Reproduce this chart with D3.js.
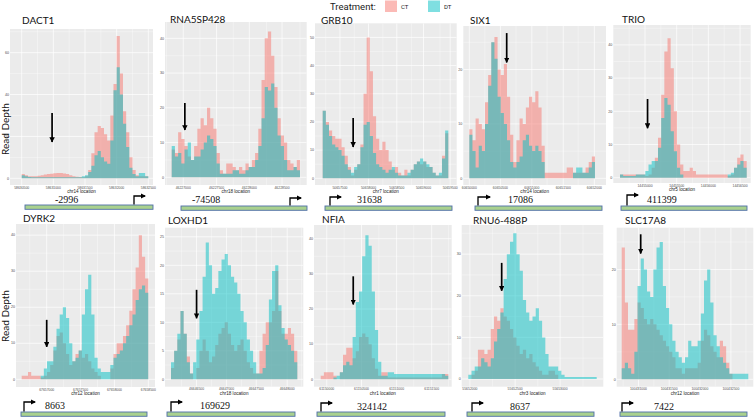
<!DOCTYPE html>
<html><head><meta charset="utf-8">
<script src="https://cdn.jsdelivr.net/npm/d3@7"></script>
<style>body{margin:0;background:#fff}svg{display:block}</style>
</head><body><svg id="c" width="755" height="418"></svg>
<script>
// ---------- DATA ----------
const genes = ["DACT1","RNA5SP428","GRB10","SIX1","TRIO","DYRK2","LOXHD1","NFIA","RNU6-488P","SLC17A8"];
const chroms = ["chr14","chr18","chr7","chr14","chr5","chr12","chr18","chr1","chr3","chr12"];
const distances = ["-2996","-74508","31638","17086","411399","8663","169629","324142","8637","7422"];
const treatments = ["CT","DT"];

const ctDACT1 = [2,1.5,1,1,1,1.2,1.5,1.8,2,2.2,2.4,2.5,2.5,2.3,2,1.5,1,0.8,0.6,0.5,1,4,12,22,25,24,21,18,30,45,68,50,32,22,10,4,1.5,1,1,1];
const dtDACT1 = [1.5,1,0.6,0.5,0.5,0.5,0.5,0.5,0.5,0.5,0.5,0.5,0.5,0.5,0.5,0.5,0.5,0.5,0.5,1,1.5,3,6,11,13,10,8,7,18,42,53,40,26,15,5,2,1,2.5,2.5,1];
const ctRNA5SP428 = [8,7,13,11,9,6,5,9,14,17,15,20,17,14,7,2,1,4,4,3,2,3,2,4,3,5,7,14,28,40,42,35,26,17,12,10,5,4,3,5];
const dtRNA5SP428 = [9,6,7,4,8,10,5,6,6,8,10,12,11,9,4,1,1,1,1,2,2,1,1,2,3,3,5,9,17,26,25,27,20,12,9,5,2,2,3,2];
const ctGRB10 = [24,20,17,15,14,14,11,8,4,1,3,5,12,30,50,38,22,14,10,13,10,6,3,4,2,1,3,1,3,5,6,5,6,4,4,2,1,1,8,16];
const dtGRB10 = [24,19,15,12,11,10,8,5,3,2,4,5,11,19,20,15,9,5,4,3,2,3,4,2,1,1,1,2,3,5,6,7,6,5,4,2,1,2,7,17];
const ctSIX1 = [9,7,11,10,9,14,19,25,26,20,19,21,15,8,3,7,11,10,13,15,14,16,13,6,1,1,1,1,1,1,1,2,2,1,1,1,1,2,3,4];
const dtSIX1 = [8,5,2,6,5,10,17,25,22,15,12,10,7,3,2,3,4,7,8,6,5,6,5,3,0,0,0,0,0,0,0,0,0,1,2,2,1,1,2,3];
const ctTRIO = [1,1,1,1,1,1,1,1,0.5,1,3,6,12,25,38,42,33,20,10,4,2,2,3,2,1,1,1,1,1,1,1,1,1,1,0.5,1,3,6,7,5];
const dtTRIO = [1,0.5,0.5,0.5,0.5,1,1,1,2,4,5,5,9,18,24,22,14,8,3,1,0,0,0,0,0,0,0,0,0,0,0,0,0,0,1,1.5,3,4,5,3];
const ctDYRK2 = [1,1,2,1,1,1,0.5,1,2,4,8,12,13,10,7,4,5,7,8,6,7,5,3,2,1,0,0,0,3,7,10,10,12,15,19,25,31,40,34,28];
const dtDYRK2 = [0,0,0,0,0,0,1,3,5,5,9,14,18,20,17,10,5,6,8,18,25,29,18,6,3,2,2,2,4,6,7,8,10,12,15,18,22,25,26,24];
const ctLOXHD1 = [2,5,7,12,8,4,1,0,2,5,7,5,3,4,6,8,9,10,8,6,5,6,7,5,3,2,1,1,5,8,10,10,12,19,12,8,8,9,8,5];
const dtLOXHD1 = [3,5,8,12,8,3,1,3,7,12,18,24,20,15,16,19,21,22,20,18,17,15,12,10,7,5,3,1,1,2,6,14,19,20,13,9,7,6,5,3];
const ctNFIA = [1,2,2,2,1,0,2,7,9,9,6,8,12,13,12,10,6,3,1,2,2,0.5,0.5,0.5,0.5,0.5,0.5,0.5,0.5,0.5,0.5,0.5,0.5,0.5,0.5,0.5,0.5,0.5,1.5,1.5];
const dtNFIA = [0,0,0,0,0.5,1,2,4,5,4,12,22,25,35,41,38,25,14,5,1,1,2,2,1.5,1.5,1.5,1.5,1.5,1.5,1.5,1.5,1.5,1.5,1.5,1.5,1.5,1.5,1.5,1.5,1];
const ctRNU6 = [0,1,2,7,7,6,7,12,15,14,17,15,14,12,10,8,6,7,5,6,4,3,2,1,1,2,2,1,0,0,0,0,0,0,0,0,0,0,0,0];
const dtRNU6 = [1,2,3,3,5,4,3,5,9,12,16,24,30,33,35,30,26,19,16,14,15,17,14,10,6,3,3,3,2,1,0.5,0.5,0.5,0.5,0.5,0.5,0.5,0.5,0.5,0.5];
const ctSLC17A8 = [24,14,9,9,11,14,13,11,10,11,10,9,8,7,6,5,4,2,2,1,2,2,2,2,3,7,9,8,6,5,4,7,6,3,1,0,0,0,0,0];
const dtSLC17A8 = [2,3,2,1,5,17,22,20,16,15,20,24,25,17,13,10,7,5,4,3,4,7,6,6,7,12,18,20,14,8,6,4,3,2,1,1,1,1,1,1];

const ctSeries = [ctDACT1,ctRNA5SP428,ctGRB10,ctSIX1,ctTRIO,ctDYRK2,ctLOXHD1,ctNFIA,ctRNU6,ctSLC17A8];
const dtSeries = [dtDACT1,dtRNA5SP428,dtGRB10,dtSIX1,dtTRIO,dtDYRK2,dtLOXHD1,dtNFIA,dtRNU6,dtSLC17A8];

// y axis max value shown, and y tick values
const yMaxes = [71.3,44.7,55,28,46,43.1,26.6,43.9,37,27.6];
const yTickSets = [[0,20,40,60],[0,10,20,30,40],[0,10,20,30,40,50],[0,10,20],[0,10,20,30,40],
                   [0,10,20,30,40],[0,5,10,15,20,25],[0,10,20,30,40],[0,10,20,30],[0,10,20]];
// x tick positions (bin units) and labels
const xTickPos = [[0,10,20,30,40],[3.6,14,24.2,34.4],[5.5,14.6,23.6,32.1,40.6],[0,9.9,19.9,29.9,39.8],[7.9,17.9,27.9,37.9],
                  [7.9,18.6,29.3,40],[8.1,17.6,27,36.8],[1.9,12.8,23.8,34.8],[0.5,14.6,28.6],[5.3,15,24.7,34.5]];
const xTickLabels = [
  ["58630500","58631000","58631500","58632000","58632500"],
  ["46227000","46227500","46228000","46228500"],
  ["50657500","50658000","50658500","50659000","50659500"],
  ["60650000","60650500","60651000","60651500","60652000"],
  ["14455000","14455500","14456000","14456500"],
  ["67657000","67657500","67658000","67658500"],
  ["46646500","46647000","46647500","46648000"],
  ["61150000","61150500","61151000","61151500"],
  ["55652000","55652500","55653000"],
  ["100431000","100431500","100432000","100432500"]];
// annotation arrows: [bin position, top value, bottom value]
const arrows = [[9.6,31.2,17.3],[4.1,21.4,13.6],[9.7,21.4,11.1],[11.9,26.7,21.3],[8.7,23.7,14.9],
                [7.9,16.5,9],[8.1,15.7,10.7],[10.2,29.3,21.3],[10.4,27.9,21.2],[6,26.4,22.9]];

// ---------- LAYOUT (pixels) ----------
const panelBox = [[10,153,29,185],[165,306.7,22,185],[315,456.7,23.3,185],[463.3,606,26,185],[613.3,750.7,25,183],
                  [16,155,224,387],[165,303.3,227.7,386.7],[314,451.7,225,386.7],[461.7,603.3,225,386.7],[616.7,753.3,227.7,386.7]];
const dataX = [[21.7,148.3],[171.7,300],[322.7,448.3],[469.3,595],[620,746.7],
               [21.7,148.3],[171,297.3],[320.7,448.3],[468.3,596.7],[621.7,748.3]];
const zeroY = [178.3,177.3,178.3,178.3,177.7,379.3,379.3,379.3,379,379.3];
const titlePos = [[22,24],[170,23],[321,24],[470,24],[622,23],[23,222],[168,224],[322,223],[473,224],[625,224]];
const barBox = [[25,153,205],[181,307,206],[325,452,206],[475,602,206],[621,747,206],
                [21,147,412],[167,295,412],[317,445,412],[467,594,412],[620,747,412]];
const labelPos = [[55,203],[192,203],[357,203],[508,203],[647,203],[45,409],[200,409],[357,410],[510,410],[654,410]];
const tssPos = [[134,196,145],[290,198,301],[330,197,341],[478,197,490],[627,195,638],
                [24,402,35],[171,402,182],[321,403,332],[472,403,483],[622,403,633]];

const COL = {CT:"#F8766D", DT:"#00BFC4"};

const svg = d3.select("#c");
const defs = svg.append("defs");
defs.append("marker").attr("id","ah").attr("viewBox","0 0 10 10").attr("refX",9).attr("refY",5)
  .attr("markerWidth",3.2).attr("markerHeight",3.2).attr("orient","auto")
  .append("path").attr("d","M0,0L10,5L0,10Z").attr("fill","#000");
defs.append("marker").attr("id","ah2").attr("viewBox","0 0 10 10").attr("refX",8).attr("refY",5)
  .attr("markerWidth",4).attr("markerHeight",4).attr("orient","auto")
  .append("path").attr("d","M0,0L10,5L0,10Z").attr("fill","#000");

genes.forEach((g,i)=>{
  const [gx0,gx1,gy0,gy1] = panelBox[i];
  const x = d3.scaleLinear().domain([0,ctSeries[i].length]).range(dataX[i]);
  const y = d3.scaleLinear().domain([0,yMaxes[i]]).range([zeroY[i],gy0]);
  const p = svg.append("g");
  p.append("rect").attr("x",gx0).attr("y",gy0).attr("width",gx1-gx0).attr("height",gy1-gy0).attr("fill","#EBEBEB");
  const clipId = "clip"+i;
  defs.append("clipPath").attr("id",clipId).append("rect").attr("x",gx0).attr("y",gy0).attr("width",gx1-gx0).attr("height",gy1-gy0);
  const yt = yTickSets[i];
  const ystep = yt[1]-yt[0];
  const yMinor = d3.range(yt[0]+ystep/2, yMaxes[i], ystep);
  const xt = xTickPos[i];
  const xstep = xt[1]-xt[0];
  const xMinor = d3.range(xt[0]-xstep/2, 44, xstep).filter(v=>x(v)>gx0 && x(v)<gx1);
  const gg = p.append("g").attr("clip-path",`url(#${clipId})`);
  gg.selectAll(".ymn").data(yMinor).join("line").attr("x1",gx0).attr("x2",gx1).attr("y1",d=>y(d)).attr("y2",d=>y(d)).attr("stroke","#fff").attr("stroke-width",0.35);
  gg.selectAll(".xmn").data(xMinor).join("line").attr("y1",gy0).attr("y2",gy1).attr("x1",d=>x(d)).attr("x2",d=>x(d)).attr("stroke","#fff").attr("stroke-width",0.35);
  gg.selectAll(".ymj").data(yt).join("line").attr("x1",gx0).attr("x2",gx1).attr("y1",d=>y(d)).attr("y2",d=>y(d)).attr("stroke","#fff").attr("stroke-width",0.7);
  gg.selectAll(".xmj").data(xt).join("line").attr("y1",gy0).attr("y2",gy1).attr("x1",d=>x(d)).attr("x2",d=>x(d)).attr("stroke","#fff").attr("stroke-width",0.7);
  const area = d3.area().x(d=>x(d[0])).y0(y(0)).y1(d=>y(d[1])).curve(d3.curveStepAfter);
  [[ctSeries[i],COL.CT],[dtSeries[i],COL.DT]].forEach(([vals,c])=>{
    const pts = vals.map((v,k)=>[k,v]).concat([[vals.length, vals[vals.length-1]]]);
    gg.append("path").datum(pts).attr("d",area).attr("fill",c).attr("fill-opacity",0.5);
  });
  p.selectAll(".ytl").data(yt).join("text").attr("x",gx0-1).attr("y",d=>y(d)+1.2)
    .attr("text-anchor","end").attr("font-family","Liberation Sans, Arial").attr("font-size",3.6).attr("fill","#4D4D4D").text(d=>d);
  p.selectAll(".xtl").data(xt).join("text").attr("x",d=>x(d)).attr("y",gy1+3.6)
    .attr("text-anchor","middle").attr("font-family","Liberation Sans, Arial").attr("font-size",3.4).attr("fill","#4D4D4D")
    .text((d,k)=>xTickLabels[i][k]);
  p.append("text").attr("x",(gx0+gx1)/2).attr("y",gy1+8).attr("text-anchor","middle")
    .attr("font-family","Liberation Sans, Arial").attr("font-size",4.6).attr("fill","#222").text(chroms[i]+" location");
  p.append("text").attr("x",titlePos[i][0]).attr("y",titlePos[i][1]).attr("font-family","Lato, Open Sans, sans-serif")
    .attr("font-size",10).attr("fill","#111").text(g);
  const a = arrows[i];
  p.append("line").attr("x1",x(a[0])).attr("x2",x(a[0])).attr("y1",y(a[1])).attr("y2",y(a[2]))
    .attr("stroke","#000").attr("stroke-width",1.7).attr("marker-end","url(#ah)");
  const [bx0,bx1,by] = barBox[i];
  p.append("rect").attr("x",bx0).attr("y",by).attr("width",bx1-bx0).attr("height",4.3)
    .attr("fill","#A9D18E").attr("stroke","#4F6FA8").attr("stroke-width",0.9);
  p.append("text").attr("x",labelPos[i][0]).attr("y",labelPos[i][1]).attr("font-family","Liberation Serif, Times New Roman, serif")
    .attr("font-size",10).attr("fill","#111").text(distances[i]);
  const [tx,tTop,tEnd] = tssPos[i];
  p.append("path").attr("d",`M${tx},${by-0.5}L${tx},${tTop}L${tEnd},${tTop}`).attr("fill","none")
    .attr("stroke","#000").attr("stroke-width",1.3).attr("marker-end","url(#ah2)");
});

[[9,129],[9,316]].forEach(([cx,cy])=>{
  svg.append("text").attr("transform",`translate(${cx},${cy}) rotate(-90)`).attr("text-anchor","middle")
    .attr("font-family","Lato, Open Sans, sans-serif").attr("font-size",10).attr("fill","#111").text("Read Depth");
});

const lg = svg.append("g");
lg.append("text").attr("x",330).attr("y",10).attr("font-family","Roboto, Liberation Sans, sans-serif").attr("font-size",9.5).attr("fill","#222").text("Treatment:");
treatments.forEach((t,k)=>{
  const lx = [385,428][k];
  lg.append("rect").attr("x",lx).attr("y",0.5).attr("width",12).attr("height",11.5).attr("fill",COL[t]).attr("fill-opacity",0.5);
  lg.append("text").attr("x",lx+16).attr("y",8.5).attr("font-family","Roboto, Liberation Sans, sans-serif").attr("font-size",6).attr("fill","#222").text(t);
});
</script></body></html>
